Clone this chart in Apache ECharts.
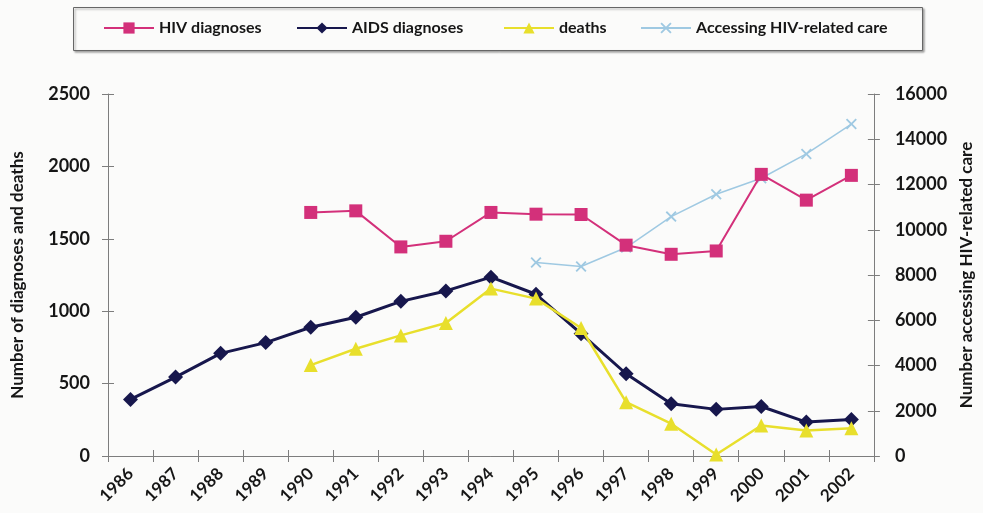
<!DOCTYPE html>
<html>
<head>
<meta charset="utf-8">
<script src="https://cdn.jsdelivr.net/npm/echarts@6/dist/echarts.min.js"></script>
<style>
html,body{margin:0;padding:0;background:#fbfbfa;}
#chart{width:983px;height:513px;}
</style>
</head>
<body>
<div id="chart"></div>
<script>
const years = ['1986','1987','1988','1989','1990','1991','1992','1993','1994','1995','1996','1997','1998','1999','2000','2001','2002'];
const hivDiagnoses = [null,null,null,null,1682,1693,1444,1483,1682,1670,1668,1456,1393,1416,1945,1767,1938];
const aidsDiagnoses = [391,545,709,783,889,958,1068,1140,1235,1117,845,568,361,322,342,234,252];
const deaths = [null,null,null,null,628,741,833,918,1156,1087,884,372,223,10,211,176,192];
const accessingCare = [null,null,null,null,null,null,null,null,null,8553,8376,9215,10583,11571,12277,13350,14673];
const leftTicks = {min:0, max:2500, interval:500};
const rightTicks = {min:0, max:16000, interval:2000};

const FONT = 'Lato';
const TXT = '#161616';
const AXC = '#7d7d7d';
const crossPath = 'path://M0,1.2L1.2,0L5,3.8L8.8,0L10,1.2L6.2,5L10,8.8L8.8,10L5,6.2L1.2,10L0,8.8L3.8,5Z';

const chart = echarts.init(document.getElementById('chart'));
const plain = v => String(v);
const axisLabelStyle = {color: TXT, fontFamily: FONT, fontWeight: 'bold', fontSize: 18, formatter: plain};
const nameStyle = {color: TXT, fontFamily: FONT, fontWeight: 'bold', fontSize: 17};

function legendAt(name, left) {
  return {
    data: [name], left: left, top: 20, itemWidth: 50, itemHeight: 14, itemGap: 5,
    textStyle: {color: TXT, fontFamily: FONT, fontWeight: 'bold', fontSize: 16},
    padding: 0
  };
}

chart.setOption({
  backgroundColor: '#fbfbfa',
  animation: false,
  graphic: [{
    type: 'rect', shape: {x: 73.5, y: 7.5, width: 849, height: 43},
    style: {fill: '#fbfbfa', stroke: '#666', lineWidth: 1, shadowBlur: 2, shadowOffsetX: 1.5, shadowOffsetY: 1.5, shadowColor: 'rgba(0,0,0,0.35)'},
    z: -1
  }],
  legend: [
    legendAt('HIV diagnoses', 103),
    legendAt('AIDS diagnoses', 296),
    legendAt('deaths', 503),
    legendAt('Accessing HIV-related care', 640)
  ],
  grid: {left: 108, right: 105, top: 94, bottom: 57},
  xAxis: [{
    type: 'category', data: years, boundaryGap: true,
    axisLine: {lineStyle: {color: AXC, width: 1}},
    axisTick: {show: true, length: 6, lineStyle: {color: AXC}, alignWithLabel: false},
    axisLabel: {rotate: 45, interval: 0, margin: 15, fontSize: 17, color: TXT, fontFamily: FONT, fontWeight: 'bold'},
    splitLine: {show: false}
  }, {
    type: 'category', data: years, boundaryGap: true, position: 'bottom',
    axisLine: {show: false},
    axisTick: {show: true, inside: true, length: 6, lineStyle: {color: AXC}},
    axisLabel: {show: false}, splitLine: {show: false}
  }],
  yAxis: [{
    type: 'value', position: 'left', min: leftTicks.min, max: leftTicks.max, interval: leftTicks.interval,
    name: 'Number of diagnoses and deaths', nameLocation: 'middle', nameGap: 82, nameRotate: 90,
    nameTextStyle: nameStyle,
    axisLine: {show: true, lineStyle: {color: AXC, width: 1}},
    axisTick: {show: true, length: 6, lineStyle: {color: AXC}},
    axisLabel: Object.assign({margin: 18}, axisLabelStyle),
    splitLine: {show: false}
  }, {
    type: 'value', position: 'right', min: rightTicks.min, max: rightTicks.max, interval: rightTicks.interval,
    name: 'Number accessing HIV-related care', nameLocation: 'middle', nameGap: 80, nameRotate: 90,
    nameTextStyle: nameStyle,
    axisLine: {show: true, lineStyle: {color: AXC, width: 1}},
    axisTick: {show: true, length: 6, lineStyle: {color: AXC}},
    axisLabel: Object.assign({margin: 21}, axisLabelStyle),
    splitLine: {show: false}
  }, {
    type: 'value', position: 'left', min: leftTicks.min, max: leftTicks.max, interval: leftTicks.interval,
    axisLine: {show: false}, axisTick: {show: true, inside: true, length: 6, lineStyle: {color: AXC}},
    axisLabel: {show: false}, splitLine: {show: false}
  }, {
    type: 'value', position: 'right', min: rightTicks.min, max: rightTicks.max, interval: rightTicks.interval,
    axisLine: {show: false}, axisTick: {show: true, inside: true, length: 6, lineStyle: {color: AXC}},
    axisLabel: {show: false}, splitLine: {show: false}
  }],
  series: [{
    name: 'HIV diagnoses', type: 'line', data: hivDiagnoses, yAxisIndex: 0, z: 5,
    symbol: 'rect', symbolSize: 13, connectNulls: false,
    lineStyle: {color: '#d3307a', width: 2}, itemStyle: {color: '#d3307a'}
  }, {
    name: 'AIDS diagnoses', type: 'line', data: aidsDiagnoses, yAxisIndex: 0, z: 3,
    symbol: 'diamond', symbolSize: 15,
    lineStyle: {color: '#17174d', width: 3}, itemStyle: {color: '#17174d'}
  }, {
    name: 'deaths', type: 'line', data: deaths, yAxisIndex: 0, z: 4,
    symbol: 'triangle', symbolSize: 14,
    lineStyle: {color: '#e8df2c', width: 2.5}, itemStyle: {color: '#e8df2c'}
  }, {
    name: 'Accessing HIV-related care', type: 'line', data: accessingCare, yAxisIndex: 1, z: 2,
    symbol: crossPath, symbolSize: 11,
    lineStyle: {color: '#9fc9e2', width: 1.5}, itemStyle: {color: '#9fc9e2'}
  }]
});
</script>
</body>
</html>
